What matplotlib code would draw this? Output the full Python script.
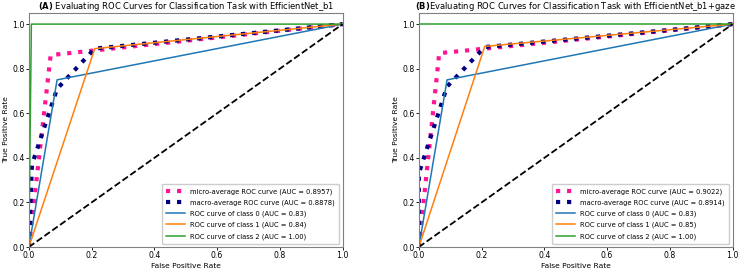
import numpy as np
import matplotlib
matplotlib.use("Agg")
import matplotlib.pyplot as plt

# points (fpr, tpr)
titles = [r"$\bf{(A)}$ Evaluating ROC Curves for Classification Task with EfficientNet_b1",
          r"$\bf{(B)}$Evaluating ROC Curves for Classification Task with EfficientNet_b1+gaze"]

micro_fpr = [[0, 0.0695, 1], [0, 0.065, 1]]
micro_tpr = [[0, 0.861, 1], [0, 0.8696, 1]]
micro_auc = [0.8957, 0.9022]

macro_fpr = [[0, 0.01, 0.09, 0.21, 1], [0, 0, 0.09, 0.21, 1]]
macro_tpr = [[0, 0.37, 0.71, 0.89, 1], [0, 0.33, 0.72, 0.897, 1]]
macro_auc = [0.8878, 0.8914]

class_fpr = [
    [[0, 0.09, 1], [0, 0.21, 1], [0, 0.008, 1]],
    [[0, 0.09, 1], [0, 0.21, 1], [0, 0, 1]],
]
class_tpr = [
    [[0, 0.75, 1], [0, 0.89, 1], [0, 1, 1]],
    [[0, 0.75, 1], [0, 0.90, 1], [0, 1, 1]],
]
class_auc = [[0.83, 0.84, 1.00], [0.83, 0.85, 1.00]]
class_colors = ["tab:blue", "tab:orange", "tab:green"]

fig = plt.figure(figsize=(7.4, 2.7), dpi=100)
axes = [fig.add_axes([0.039, 0.085, 0.424, 0.867]),
        fig.add_axes([0.566, 0.085, 0.424, 0.867])]

for p, ax in enumerate(axes):
    ax.plot(micro_fpr[p], micro_tpr[p], color="deeppink", linestyle=":", linewidth=3,
            label="micro-average ROC curve (AUC = {0:0.4f})".format(micro_auc[p]))
    ax.plot(macro_fpr[p], macro_tpr[p], color="navy", linestyle=":", linewidth=3,
            label="macro-average ROC curve (AUC = {0:0.4f})".format(macro_auc[p]))
    for i in range(3):
        ax.plot(class_fpr[p][i], class_tpr[p][i], color=class_colors[i], linewidth=1.1,
                label="ROC curve of class {0} (AUC = {1:0.2f})".format(i, class_auc[p][i]))
    ax.plot([0, 1], [0, 1], "k--", linewidth=1.3)
    ax.set_xlim(0.0, 1.0)
    ax.set_ylim(0.0, 1.05)
    ax.set_xlabel("False Positive Rate", fontsize=5.4, labelpad=1.5)
    ax.set_ylabel("True Positive Rate", fontsize=5.4, labelpad=2)
    ax.set_title(titles[p], fontsize=6.0, pad=2)
    ax.tick_params(labelsize=5.6, length=2, width=0.6, pad=1.2)
    for s in ax.spines.values():
        s.set_color("0.5")
        s.set_linewidth(0.8)
    ax.legend(loc="lower right", fontsize=4.9, handlelength=2.8, borderpad=0.6,
              labelspacing=0.7, framealpha=1)

fig.savefig("out.png", dpi=100)
